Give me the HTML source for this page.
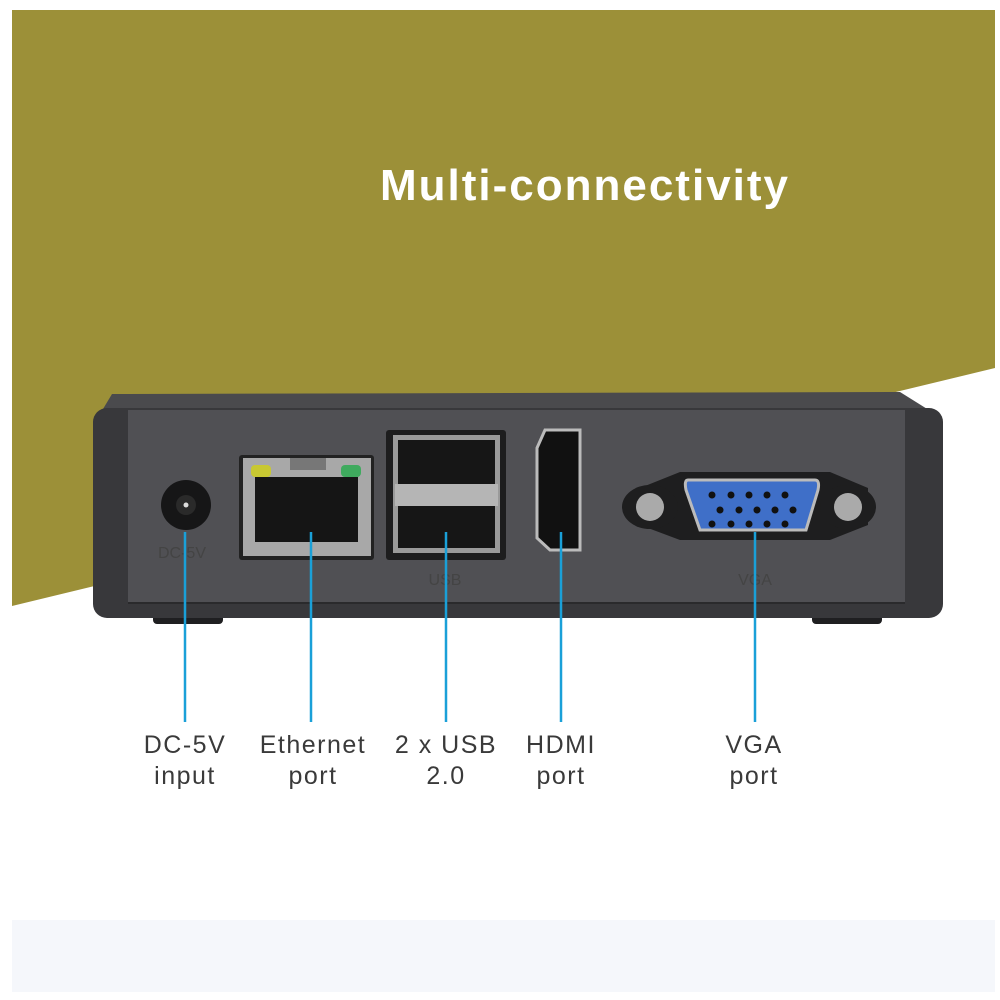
<!DOCTYPE html>
<html><head><style>
html,body{margin:0;padding:0;background:#fff;}
svg{display:block}
</style></head><body>
<svg width="1000" height="1000" viewBox="0 0 1000 1000" xmlns="http://www.w3.org/2000/svg">
<rect width="1000" height="1000" fill="#fff"/>
<polygon points="12,10 995,10 995,368 12,606" fill="#9c9038"/>
<rect x="12" y="920" width="983" height="72" fill="#f5f7fb"/>
<text x="585" y="200" text-anchor="middle" font-family="Liberation Sans, sans-serif" font-weight="bold" font-size="44" letter-spacing="2" fill="#fff">Multi-connectivity</text>
<!-- feet -->
<rect x="153" y="612" width="70" height="12" rx="4" fill="#1f1f21"/>
<rect x="812" y="612" width="70" height="12" rx="4" fill="#1f1f21"/>
<!-- top face -->
<polygon points="112,394 900,392 932,412 100,414" fill="#4a4a4d"/>
<!-- body -->
<rect x="93" y="408" width="850" height="210" rx="14" fill="#38383b"/>
<rect x="128" y="410" width="777" height="193" fill="#505054"/>
<line x1="128" y1="603" x2="905" y2="603" stroke="#2a2a2c" stroke-width="2"/>
<!-- DC jack -->
<circle cx="186" cy="505" r="25" fill="#161617"/>
<circle cx="186" cy="505" r="10" fill="#2a2a2a"/>
<circle cx="186" cy="505" r="2.5" fill="#ddd"/>
<text x="182" y="558" text-anchor="middle" font-family="Liberation Sans,sans-serif" font-size="16" fill="#444">DC-5V</text>
<!-- ethernet -->
<rect x="239" y="455" width="135" height="105" rx="3" fill="#222"/>
<rect x="243" y="458" width="128" height="98" fill="#a8a8a8"/>
<rect x="255" y="477" width="103" height="65" fill="#151515"/>
<rect x="251" y="465" width="20" height="12" rx="4" fill="#c8c832"/>
<rect x="341" y="465" width="20" height="12" rx="4" fill="#3faa5e"/>
<rect x="290" y="458" width="36" height="12" fill="#777"/>
<!-- usb -->
<rect x="386" y="430" width="120" height="130" rx="3" fill="#1d1d1e"/>
<rect x="393" y="435" width="107" height="118" fill="#9a9a9a"/>
<rect x="398" y="440" width="97" height="48" fill="#161616"/>
<rect x="398" y="503" width="97" height="45" fill="#161616"/>
<rect x="395" y="484" width="103" height="22" fill="#b5b5b5"/>
<text x="445" y="585" text-anchor="middle" font-family="Liberation Sans,sans-serif" font-size="16" fill="#444">USB</text>
<!-- hdmi -->
<path d="M545,430 L580,430 L580,550 L550,550 L537,538 L537,448 Z" fill="#111" stroke="#bbb" stroke-width="3"/>
<!-- vga -->
<path d="M640,488 L680,472 L830,472 L868,488 L868,525 L830,540 L680,540 L640,525 Z" fill="#1e1e1f"/>
<ellipse cx="650" cy="507" rx="28" ry="22" fill="#1e1e1f"/>
<ellipse cx="848" cy="507" rx="28" ry="22" fill="#1e1e1f"/>
<circle cx="650" cy="507" r="14" fill="#aaa"/>
<circle cx="848" cy="507" r="14" fill="#aaa"/>
<path d="M688,480 L815,480 Q820,480 818,490 L806,530 L700,530 L686,490 Q684,480 688,480Z" fill="#3f6fc8" stroke="#bbb" stroke-width="3"/>
<g fill="#111">
<circle cx="712" cy="495" r="3.5"/><circle cx="731" cy="495" r="3.5"/><circle cx="749" cy="495" r="3.5"/><circle cx="767" cy="495" r="3.5"/><circle cx="785" cy="495" r="3.5"/>
<circle cx="720" cy="510" r="3.5"/><circle cx="739" cy="510" r="3.5"/><circle cx="757" cy="510" r="3.5"/><circle cx="775" cy="510" r="3.5"/><circle cx="793" cy="510" r="3.5"/>
<circle cx="712" cy="524" r="3.5"/><circle cx="731" cy="524" r="3.5"/><circle cx="749" cy="524" r="3.5"/><circle cx="767" cy="524" r="3.5"/><circle cx="785" cy="524" r="3.5"/>
</g>
<text x="755" y="585" text-anchor="middle" font-family="Liberation Sans,sans-serif" font-size="16" fill="#444">VGA</text>
<!-- lines -->
<g stroke="#1aa0d8" stroke-width="2.5">
<line x1="185" y1="532" x2="185" y2="722"/>
<line x1="311" y1="532" x2="311" y2="722"/>
<line x1="446" y1="532" x2="446" y2="722"/>
<line x1="561" y1="532" x2="561" y2="722"/>
<line x1="755" y1="532" x2="755" y2="722"/>
</g>
<g font-family="Liberation Sans,sans-serif" font-size="25" letter-spacing="1.5" fill="#3a3a3a" text-anchor="middle">
<text x="185" y="753">DC-5V</text><text x="185" y="784">input</text>
<text x="313" y="753">Ethernet</text><text x="313" y="784">port</text>
<text x="446" y="753">2 x USB</text><text x="446" y="784">2.0</text>
<text x="561" y="753">HDMI</text><text x="561" y="784">port</text>
<text x="754" y="753">VGA</text><text x="754" y="784">port</text>
</g>
</svg>
</body></html>
